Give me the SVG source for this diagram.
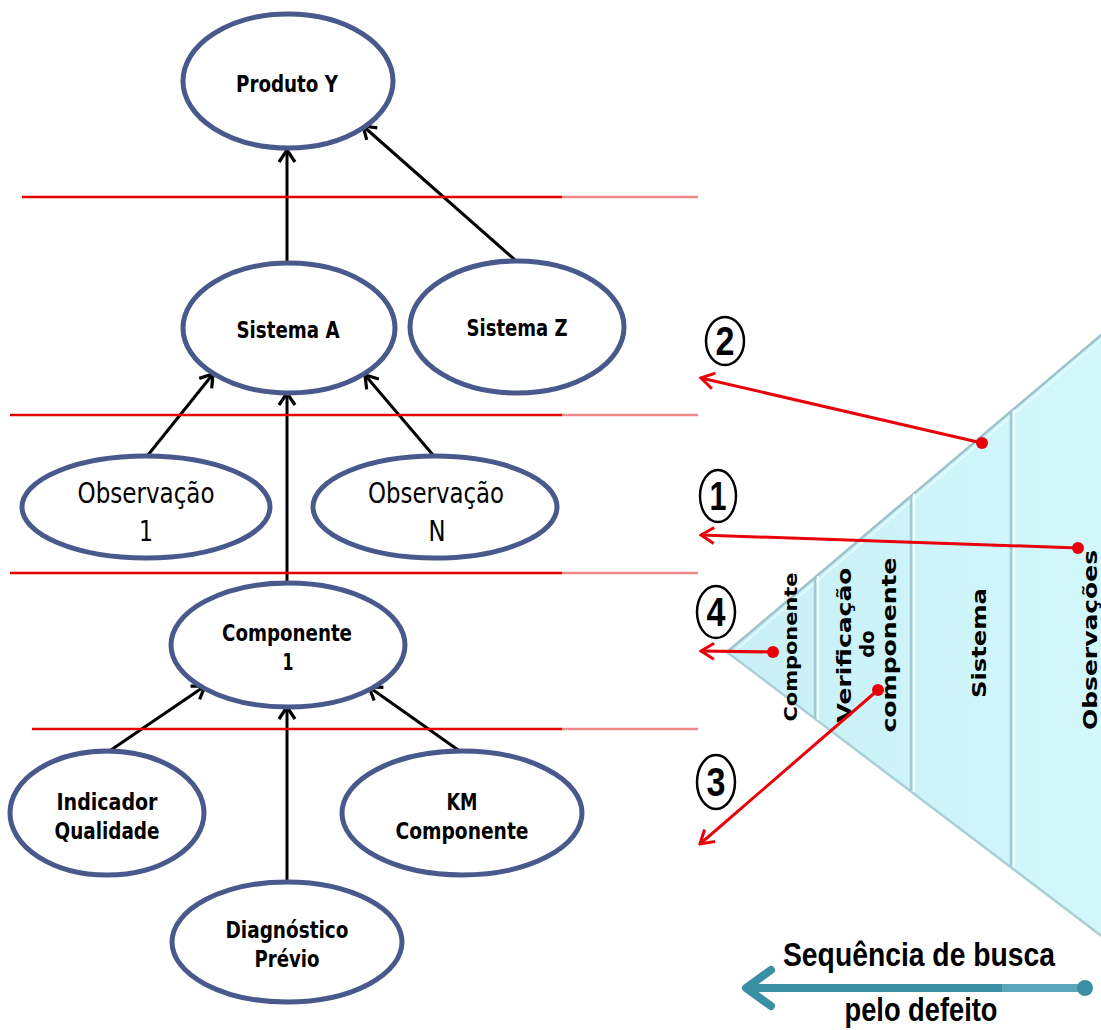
<svg xmlns="http://www.w3.org/2000/svg" width="1101" height="1030" viewBox="0 0 1101 1030">
  <defs>
    <style>
      .node { fill: #ffffff; stroke: #485a8c; stroke-width: 5; }
      .nb { font-family: "DejaVu Sans Condensed", "DejaVu Sans", sans-serif; font-weight: bold; font-size: 23.5px; fill: #000; text-anchor: middle; }
      .nr { font-family: "DejaVu Sans Condensed", "DejaVu Sans", sans-serif; font-size: 29px; fill: #000; text-anchor: middle; }
      .link { stroke: #000; stroke-width: 3; fill: none; marker-end: url(#ab); }
      .guide { stroke: #e60000; stroke-width: 2.5; }
      .guide-fade { stroke: #f08a8a; stroke-width: 2.5; }
      .ptr { stroke: #e8000a; stroke-width: 3; fill: none; marker-end: url(#ar); }
      .dot { fill: #e8000a; }
      .badge { fill: #fff; stroke: #000; stroke-width: 2.5; }
      .num { font-family: "Liberation Sans", Arial, sans-serif; font-weight: bold; font-size: 40px; fill: #000; text-anchor: middle; }
      .lvl { font-family: "DejaVu Sans", "Open Sans", sans-serif; font-weight: bold; fill: #000; text-anchor: middle; }
      .div-dark { stroke: #a3c8d0; stroke-width: 2.5; }
      .div-light { stroke: #f4ffff; stroke-width: 2; }
      .seq { font-family: "Liberation Sans", Arial, sans-serif; font-weight: bold; font-size: 34px; fill: #000; text-anchor: middle; }
    </style>
    <marker id="ab" viewBox="-15 -10 17 20" refX="0" refY="0" markerWidth="17" markerHeight="20" orient="auto" markerUnits="userSpaceOnUse">
      <path d="M-12,-8 L0,0 L-12,8" fill="none" stroke="#000" stroke-width="3.2"/>
    </marker>
    <marker id="ar" viewBox="-16 -11 18 22" refX="0" refY="0" markerWidth="18" markerHeight="22" orient="auto" markerUnits="userSpaceOnUse">
      <path d="M-13,-8 L0,0 L-13,8" fill="none" stroke="#e8000a" stroke-width="3"/>
    </marker>
    <linearGradient id="tri" x1="0" y1="0" x2="1" y2="0">
      <stop offset="0" stop-color="#c8f0f6"/>
      <stop offset="1" stop-color="#d2f8fc"/>
    </linearGradient>
  </defs>

  <rect width="1101" height="1030" fill="#ffffff"/>

  <!-- search pyramid (rotated, apex to the left) -->
  <g id="pyramid">
    <polygon points="727,652 1120,319 1120,950" fill="url(#tri)"/>
    <line x1="727" y1="652" x2="1120" y2="319" stroke="#9cc2cb" stroke-width="2.5"/>
    <line x1="731" y1="654" x2="1120" y2="324" stroke="#f0feff" stroke-width="1.5" opacity="0.8"/>
    <line x1="727" y1="652" x2="1120" y2="950" stroke="#a9cfd7" stroke-width="2.5"/>
    <!-- section dividers -->
    <line class="div-dark" x1="815" y1="578" x2="815" y2="718"/>
    <line class="div-light" x1="818" y1="576" x2="818" y2="720"/>
    <line class="div-dark" x1="911" y1="496" x2="911" y2="790"/>
    <line class="div-light" x1="914" y1="494" x2="914" y2="792"/>
    <line class="div-dark" x1="1011" y1="412" x2="1011" y2="866"/>
    <line class="div-light" x1="1014" y1="410" x2="1014" y2="868"/>
    <!-- section labels -->
    <text class="lvl" font-size="17" transform="translate(797,647) rotate(-90)" textLength="149" lengthAdjust="spacingAndGlyphs">Componente</text>
    <text class="lvl" font-size="19.5" transform="translate(851,645) rotate(-90)" textLength="155" lengthAdjust="spacingAndGlyphs">Verificação</text>
    <text class="lvl" font-size="19.5" transform="translate(874,644) rotate(-90)">do</text>
    <text class="lvl" font-size="19.5" transform="translate(896,645) rotate(-90)" textLength="175" lengthAdjust="spacingAndGlyphs">componente</text>
    <text class="lvl" font-size="20" transform="translate(986,643) rotate(-90)" textLength="110" lengthAdjust="spacingAndGlyphs">Sistema</text>
    <text class="lvl" font-size="20" transform="translate(1097,640) rotate(-90)" textLength="180" lengthAdjust="spacingAndGlyphs">Observações</text>
  </g>

  <!-- hierarchy connectors -->
  <g id="connectors">
    <line class="link" x1="287" y1="262" x2="287" y2="150"/>
    <line class="link" x1="515" y1="260" x2="363" y2="126"/>
    <line class="link" x1="148" y1="455" x2="213" y2="374"/>
    <line class="link" x1="287" y1="583" x2="287" y2="393"/>
    <line class="link" x1="433" y1="455" x2="365" y2="375"/>
    <line class="link" x1="108" y1="752" x2="205" y2="686"/>
    <line class="link" x1="287" y1="882" x2="287" y2="707"/>
    <line class="link" x1="461" y1="752" x2="369" y2="687"/>
  </g>

  <!-- level separators -->
  <g id="separators">
    <line class="guide" x1="22" y1="197" x2="562" y2="197"/>
    <line class="guide-fade" x1="562" y1="197" x2="698" y2="197"/>
    <line class="guide" x1="10" y1="415" x2="562" y2="415"/>
    <line class="guide-fade" x1="562" y1="415" x2="698" y2="415"/>
    <line class="guide" x1="10" y1="573" x2="562" y2="573" stroke-width="3"/>
    <line class="guide-fade" x1="562" y1="573" x2="698" y2="573" stroke-width="3"/>
    <line class="guide" x1="32" y1="729" x2="562" y2="729"/>
    <line class="guide-fade" x1="562" y1="729" x2="698" y2="729"/>
  </g>

  <!-- nodes -->
  <g id="produto-y">
    <ellipse class="node" cx="288" cy="81" rx="105" ry="67"/>
    <text class="nb" x="287" y="92" textLength="102" lengthAdjust="spacingAndGlyphs">Produto Y</text>
  </g>
  <g id="sistema-a">
    <ellipse class="node" cx="289" cy="328" rx="106" ry="65"/>
    <text class="nb" x="288" y="338" textLength="103" lengthAdjust="spacingAndGlyphs">Sistema A</text>
  </g>
  <g id="sistema-z">
    <ellipse class="node" cx="517" cy="327" rx="107" ry="66"/>
    <text class="nb" x="517" y="336" textLength="101" lengthAdjust="spacingAndGlyphs">Sistema Z</text>
  </g>
  <g id="observacao-1">
    <ellipse class="node" cx="146" cy="507" rx="124" ry="51"/>
    <text class="nr" x="146" y="503" textLength="137" lengthAdjust="spacingAndGlyphs">Observação</text>
    <text class="nr" x="146" y="541" textLength="14" lengthAdjust="spacingAndGlyphs">1</text>
  </g>
  <g id="observacao-n">
    <ellipse class="node" cx="435" cy="507" rx="122" ry="51"/>
    <text class="nr" x="436" y="503" textLength="136" lengthAdjust="spacingAndGlyphs">Observação</text>
    <text class="nr" x="437" y="541" textLength="17" lengthAdjust="spacingAndGlyphs">N</text>
  </g>
  <g id="componente-1">
    <ellipse class="node" cx="288" cy="645" rx="117" ry="62"/>
    <text class="nb" x="287" y="641" textLength="130" lengthAdjust="spacingAndGlyphs">Componente</text>
    <text class="nb" x="288" y="670" textLength="11" lengthAdjust="spacingAndGlyphs">1</text>
  </g>
  <g id="indicador-qualidade">
    <ellipse class="node" cx="107" cy="813" rx="97" ry="62"/>
    <text class="nb" x="107" y="810" textLength="101" lengthAdjust="spacingAndGlyphs">Indicador</text>
    <text class="nb" x="107" y="839" textLength="105" lengthAdjust="spacingAndGlyphs">Qualidade</text>
  </g>
  <g id="km-componente">
    <ellipse class="node" cx="462" cy="813" rx="120" ry="62"/>
    <text class="nb" x="462" y="810" textLength="31" lengthAdjust="spacingAndGlyphs">KM</text>
    <text class="nb" x="462" y="839" textLength="133" lengthAdjust="spacingAndGlyphs">Componente</text>
  </g>
  <g id="diagnostico-previo">
    <ellipse class="node" cx="287" cy="942" rx="115" ry="60"/>
    <text class="nb" x="287" y="938" textLength="123" lengthAdjust="spacingAndGlyphs">Diagnóstico</text>
    <text class="nb" x="287" y="967" textLength="65" lengthAdjust="spacingAndGlyphs">Prévio</text>
  </g>

  <!-- search order pointers -->
  <g id="pointers">
    <line class="ptr" x1="982" y1="443" x2="701" y2="378"/>
    <circle class="dot" cx="982" cy="443" r="6"/>
    <line class="ptr" x1="1078" y1="548" x2="701" y2="535"/>
    <circle class="dot" cx="1078" cy="548" r="6"/>
    <line class="ptr" x1="773" y1="652" x2="701" y2="651"/>
    <circle class="dot" cx="773" cy="652" r="6"/>
    <line class="ptr" x1="878" y1="690" x2="700" y2="844"/>
    <circle class="dot" cx="878" cy="690" r="6"/>
  </g>

  <!-- step badges -->
  <g id="step-2">
    <ellipse class="badge" cx="725" cy="341" rx="19" ry="24"/>
    <text class="num" x="725" y="355" textLength="19" lengthAdjust="spacingAndGlyphs">2</text>
  </g>
  <g id="step-1">
    <ellipse class="badge" cx="718" cy="496" rx="18" ry="26"/>
    <text class="num" x="718" y="510" textLength="17" lengthAdjust="spacingAndGlyphs">1</text>
  </g>
  <g id="step-4">
    <ellipse class="badge" cx="716" cy="612" rx="19" ry="26"/>
    <text class="num" x="716" y="626" textLength="19" lengthAdjust="spacingAndGlyphs">4</text>
  </g>
  <g id="step-3">
    <ellipse class="badge" cx="716" cy="782" rx="19" ry="27"/>
    <text class="num" x="716" y="796" textLength="19" lengthAdjust="spacingAndGlyphs">3</text>
  </g>

  <!-- search direction legend -->
  <g id="legend">
    <line x1="1085" y1="988" x2="752" y2="988" stroke="#3b8fa4" stroke-width="8" stroke-linecap="round"/>
    <line x1="1002" y1="988" x2="1083" y2="988" stroke="#5ba6b8" stroke-width="8"/>
    <path d="M771,970 L746,988 L771,1006" fill="none" stroke="#3b8fa4" stroke-width="8" stroke-linecap="round" stroke-linejoin="round"/>
    <circle cx="1085" cy="988" r="8" fill="#3b8fa4"/>
    <text class="seq" x="919" y="966" textLength="272" lengthAdjust="spacingAndGlyphs">Sequência de busca</text>
    <text class="seq" x="921" y="1021" textLength="153" lengthAdjust="spacingAndGlyphs">pelo defeito</text>
  </g>
</svg>
